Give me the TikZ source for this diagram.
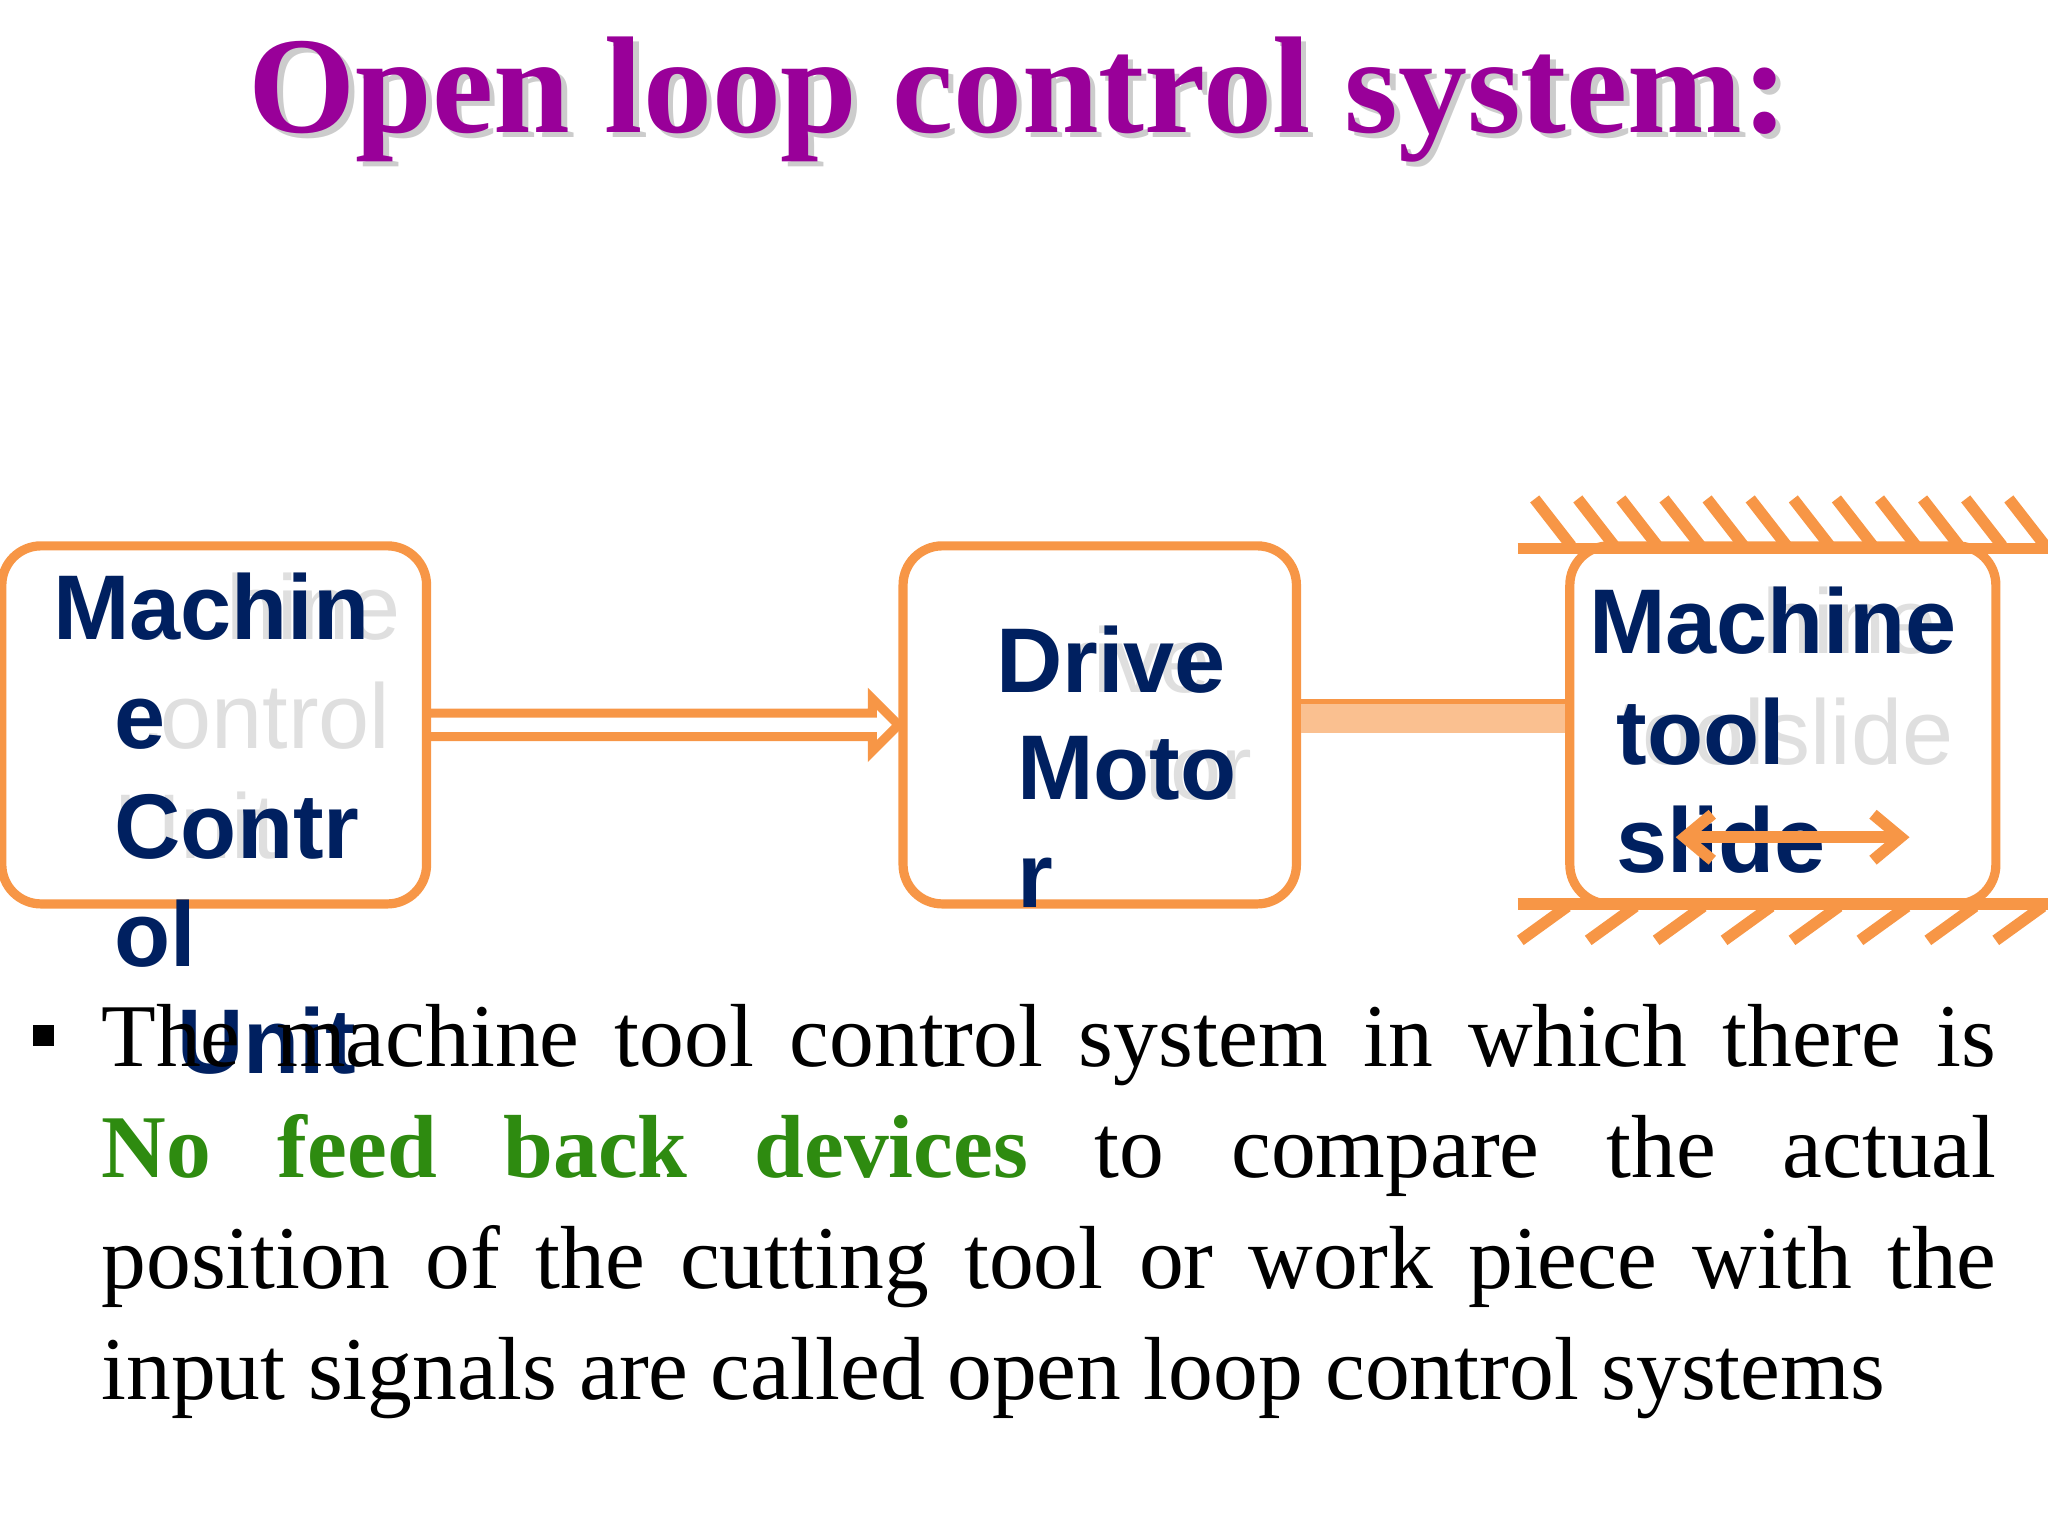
\documentclass[tikz,border=0pt]{standalone}
\usepackage{fontspec}
\setmainfont{Liberation Serif}
\setsansfont{Liberation Sans}
\usetikzlibrary{arrows.meta, calc, positioning}
\definecolor{ttlpurple}{HTML}{990099}
\definecolor{boxorange}{HTML}{F79646}
\definecolor{barorange}{HTML}{FAC090}
\definecolor{navy}{HTML}{002060}
\definecolor{fbgreen}{HTML}{2E8B10}
\tikzset{
  block/.style={draw=boxorange, line width=2pt, rounded corners=0.3cm, minimum height=2.74cm, fill=white},
  label/.style={font=\sffamily\bfseries\fontsize{20}{20}\selectfont, text=navy, inner sep=0pt, anchor=base west},
  ghost/.style={font=\sffamily\fontsize{20}{20}\selectfont, text=gray!25, inner sep=0pt, anchor=base west},
  hatch/.style={draw=boxorange, line width=2.5pt}
}
\begin{document}
\begin{tikzpicture}[x=0.01cm, y=-0.01cm]
\useasboundingbox (0,0) rectangle (1568,1176);
% title
\node[font=\bfseries\fontsize{30}{30}\selectfont, text=gray!40] at (784,80) {Open loop control system:};
\node[font=\bfseries\fontsize{30}{30}\selectfont, text=ttlpurple] (title) at (780,76) {Open loop control system:};
% blocks
\node[block, minimum width=3.25cm] (mcu) at (164,555) {};
\node[block, minimum width=3.01cm] (motor) at (842,555) {};
\node[block, minimum width=3.26cm] (slide) at (1365,555) {};
% ghost texts
\node[ghost] at (40,490) {Machine};
\node[ghost] at (87,573) {control};
\node[ghost] at (87,657) {Unit};
\node[ghost] at (762,530) {Drive};
\node[ghost] at (778,612) {Motor};
\node[ghost] at (1216,500) {Machine};
\node[ghost] at (1237,585) {toolslide};
% block texts
\node[label] at (40,490) {Machin};
\node[label] at (87,573) {e};
\node[label] at (87,657) {Contr};
\node[label] at (87,740) {ol};
\node[label] at (135,822) {Unit};
\node[label] at (762,530) {Drive};
\node[label] at (778,612) {Moto};
\node[label] at (778,695) {r};
\node[label] at (1216,500) {Machine};
\node[label] at (1237,585) {tool};
\node[label] at (1237,668) {slide};
% hollow arrow
\draw[boxorange, line width=2pt, line join=miter]
  ($(mcu.east)+(0,-9)$) -- ($(motor.west)+(-20,-9)$) -- ($(motor.west)+(-20,-20)$)
  -- (motor.west) -- ($(motor.west)+(-20,20)$) -- ($(motor.west)+(-20,9)$)
  -- ($(mcu.east)+(0,9)$);
% coupling bar
\fill[barorange] ($(motor.east)+(0,-18)$) rectangle ($(slide.west)+(0,6)$);
\draw[boxorange, line width=1pt] ($(motor.east)+(0,-18)$) -- ($(slide.west)+(0,-18)$);
% slide motion
\coordinate (sl) at (1283,641);
\coordinate (sr) at (1462,641);
\draw[boxorange, line width=2.5pt, {Straight Barb[length=6pt,width=10pt]}-{Straight Barb[length=6pt,width=10pt]}] (sl) -- (sr);
% guide ways
\draw[hatch] (1162,420) -- (1568,420);
\foreach \x in {1175,1208,...,1545} \draw[hatch] (\x,382) -- (\x+28,418);
\draw[hatch] (1162,692) -- (1568,692);
\foreach \x in {1200,1252,...,1568} \draw[hatch] (\x,694) -- (\x-36,720);
% bullet text
\fill (25,785) rectangle (41,801);
\node[font=\fontsize{19.5}{24.2}\selectfont, text width=14.5cm, align=justify, inner sep=0pt, anchor=north west] (para) at (77,768)
{\hyphenpenalty=10000 The machine tool control system in which there is\linebreak
{\color{fbgreen}\bfseries No feed back devices} to compare the actual\linebreak
position of the cutting tool or work piece with the\linebreak
input signals are called open loop control systems\par};
\end{tikzpicture}
\end{document}
